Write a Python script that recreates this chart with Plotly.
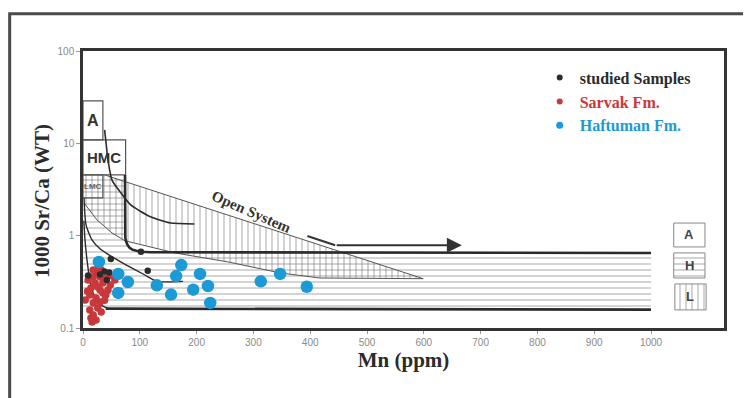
import numpy as np
import plotly.graph_objects as go

# ---------------- data (Mn ppm, 1000 Sr/Ca) ----------------
haftuman_mn = [28, 62, 79, 62, 130, 155, 164, 173, 194, 206, 220, 224, 313, 347, 394]
haftuman_sr = [0.52, 0.385, 0.315, 0.24, 0.29, 0.23, 0.365, 0.48, 0.26, 0.385, 0.285, 0.187, 0.32, 0.385, 0.28]

sarvak_mn = [23, 32, 18, 30, 40, 21, 35, 48, 14, 30, 40, 12, 23, 18, 30, 12, 26, 32, 18, 23,
             14, 4, 56, 49, 18, 25, 44, 26, 9, 35, 16, 8, 38]
sarvak_sr = [0.40, 0.425, 0.357, 0.357, 0.348, 0.308, 0.308, 0.292, 0.271, 0.258, 0.228, 0.228,
             0.211, 0.187, 0.191, 0.157, 0.165, 0.149, 0.138, 0.122, 0.128, 0.201, 0.33, 0.37,
             0.425, 0.425, 0.258, 0.278, 0.33, 0.24, 0.116, 0.25, 0.2]

studied_mn = [102, 114, 49, 38, 46, 9, 30, 42]
studied_sr = [0.67, 0.418, 0.56, 0.41, 0.40, 0.37, 0.38, 0.33]

# ---------------- diagram boundaries ----------------
hmc_curve_mn = [38, 40, 44, 51, 65, 84, 119, 154, 196]
hmc_curve_sr = [14.0, 10.9, 6.6, 4.0, 3.0, 2.15, 1.6, 1.37, 1.34]

upper_bound_mn = [74, 74, 74.5, 76, 78.5, 82, 87, 94, 104, 118, 1000]
upper_bound_sr = [4.55, 1.09, 0.95, 0.86, 0.79, 0.74, 0.705, 0.685, 0.67, 0.662, 0.65]

mid_curve_mn = [1.8, 5.3, 15.8, 30, 49, 74, 109, 130, 176]
mid_curve_sr = [2.56, 1.31, 0.90, 0.72, 0.60, 0.49, 0.375, 0.32, 0.32]

low_curve_mn = [1.5, 3.5, 7, 12, 19, 30, 44]
low_curve_sr = [1.45, 0.90, 0.55, 0.33, 0.23, 0.18, 0.163]
base_line_mn = [40, 1000]
base_line_sr = [0.162, 0.158]

open_band_mn = [0, 38, 599, 417, 347, 255, 162, 74, 51, 24.6, 1.8, 0]
open_band_sr = [4.55, 4.55, 0.342, 0.348, 0.395, 0.52, 0.65, 0.88, 1.07, 1.48, 2.26, 2.4]

horiz_band_mn = [0, 74, 74, 76, 79, 86, 100, 118, 1000, 1000, 0]
horiz_band_sr = [4.55, 4.55, 1.09, 0.897, 0.79, 0.72, 0.675, 0.66, 0.65, 0.158, 0.158]

band_lower_mn = [1.8, 24.6, 51, 74, 162, 255, 347, 417, 599]
band_lower_sr = [2.26, 1.48, 1.07, 0.88, 0.65, 0.52, 0.395, 0.348, 0.342]

open_arrow_mn = [395, 444]
open_arrow_sr = [0.99, 0.787]
arrow_tail_mn, arrow_head_mn, arrow_sr = 444, 667, 0.787

# label boxes (Mn range, Sr/Ca range)
box_A = ([0, 35], [10.9, 28.8])
box_HMC = ([0, 75], [4.55, 10.9])
box_LMC = ([0, 35], [2.56, 4.55])
key_A = ([1040, 1095], [0.755, 1.37])
key_H = ([1040, 1095], [0.348, 0.65])
key_L = ([1042, 1097], [0.157, 0.30])

x_ticks = [0, 100, 200, 300, 400, 500, 600, 700, 800, 900, 1000]
y_ticks = [0.1, 1, 10, 100]
y_tick_text = ["0.1", "1", "10", "100"]

BLUE = "#1b9ad6"
RED = "#c8383a"
DARK = "#2b2b2b"
HATCH = "#6e6e6e"

fig = go.Figure()

def hatch(xs, ys, shape, line=None):
    fig.add_trace(go.Scatter(
        x=xs, y=ys, mode="lines" if line else "none", fill="toself",
        fillcolor="rgba(0,0,0,0)",
        line=line if line else dict(width=0),
        fillpattern=dict(shape=shape, size=6, solidity=0.2, fgcolor=HATCH,
                         bgcolor="rgba(0,0,0,0)", fillmode="overlay"),
        showlegend=False, hoverinfo="skip"))

def box(b):
    xs = [b[0][0], b[0][1], b[0][1], b[0][0], b[0][0]]
    ys = [b[1][0], b[1][0], b[1][1], b[1][1], b[1][0]]
    return xs, ys

hatch(horiz_band_mn, horiz_band_sr, "-")
hatch(open_band_mn, open_band_sr, "|")

xs, ys = box(key_H); hatch(xs, ys, "-", dict(color="#888", width=1))
xs, ys = box(key_L); hatch(xs, ys, "|", dict(color="#888", width=1))
xs, ys = box(key_A)
fig.add_trace(go.Scatter(x=xs, y=ys, mode="lines", line=dict(color="#888", width=1),
                         showlegend=False, hoverinfo="skip"))
for b in (box_A, box_HMC, box_LMC):
    xs, ys = box(b)
    fig.add_trace(go.Scatter(x=xs, y=ys, mode="lines", line=dict(color="#555", width=1.2),
                             showlegend=False, hoverinfo="skip"))

def line(xs, ys, w, color=DARK, shape="spline"):
    fig.add_trace(go.Scatter(x=xs, y=ys, mode="lines",
                             line=dict(color=color, width=w, shape=shape, smoothing=0.6),
                             showlegend=False, hoverinfo="skip"))

line(band_lower_mn, band_lower_sr, 1.0, "#555", "linear")
line([open_band_mn[1], open_band_mn[2]], [open_band_sr[1], open_band_sr[2]], 1.0, "#555", "linear")
line(hmc_curve_mn, hmc_curve_sr, 1.6)
line(mid_curve_mn, mid_curve_sr, 1.4)
line(low_curve_mn, low_curve_sr, 1.4)
line(base_line_mn, base_line_sr, 2.6, DARK, "linear")
line(upper_bound_mn, upper_bound_sr, 2.6, DARK, "linear")
line(open_arrow_mn, open_arrow_sr, 2.0, "#333", "linear")

# samples
fig.add_trace(go.Scatter(x=sarvak_mn, y=sarvak_sr, mode="markers",
                         marker=dict(color=RED, size=7.5, line=dict(width=0)),
                         showlegend=False, name="Sarvak Fm."))
fig.add_trace(go.Scatter(x=studied_mn, y=studied_sr, mode="markers",
                         marker=dict(color=DARK, size=6.5, line=dict(width=0)),
                         showlegend=False, name="studied Samples"))
fig.add_trace(go.Scatter(x=haftuman_mn, y=haftuman_sr, mode="markers",
                         marker=dict(color=BLUE, size=12.5, line=dict(width=0)),
                         showlegend=False, name="Haftuman Fm."))

# legend entries
for nm, col, sz in [("studied Samples", DARK, 6), ("Sarvak Fm.", RED, 6), ("Haftuman Fm.", BLUE, 7)]:
    fig.add_trace(go.Scatter(x=[None], y=[None], mode="markers",
                             marker=dict(color=col, size=sz),
                             name=f"<span style='color:{col}'>{nm}</span>", showlegend=True))

ann = []
def gm(r):
    return float(np.sqrt(r[0] * r[1]))

for b, txt, sz, col in [(box_A, "A", 16, "#333"), (box_HMC, "HMC", 15, "#333"),
                        (box_LMC, "LMC", 8, "#666"),
                        (key_A, "A", 13, "#444"), (key_H, "H", 13, "#444"), (key_L, "L", 13, "#444")]:
    ann.append(dict(x=float(np.mean(b[0])), y=np.log10(gm(b[1])), text=f"<b>{txt}</b>",
                    showarrow=False, xref="x", yref="y",
                    font=dict(family="Liberation Sans", size=sz, color=col)))

ann.append(dict(x=297, y=np.log10(1.81), text="<b>Open System</b>", textangle=23.5,
                showarrow=False, xref="x", yref="y",
                font=dict(family="Liberation Serif", size=15, color="#333")))
ann.append(dict(x=arrow_head_mn, y=np.log10(arrow_sr), ax=arrow_tail_mn, ay=np.log10(arrow_sr),
                xref="x", yref="y", axref="x", ayref="y", text="", showarrow=True,
                arrowhead=2, arrowsize=1.5, arrowwidth=2, arrowcolor="#333"))
# y-axis title
ann.append(dict(x=-0.064, y=0.458, xref="paper", yref="paper", text="<b>1000 Sr/Ca (WT)</b>",
                textangle=-90, showarrow=False, xanchor="center", yanchor="middle",
                font=dict(family="Liberation Serif", size=21, color="#2b2b2b")))

# page body has an 8px margin: figure is sized so the page fits 751x398 exactly
fig.update_layout(
    width=743, height=390,
    margin=dict(l=75, r=27, t=43, b=70, autoexpand=False),
    paper_bgcolor="white", plot_bgcolor="white",
    annotations=ann,
    showlegend=True,
    legend=dict(x=0.7125, y=0.965, xanchor="left", yanchor="top",
                bgcolor="rgba(0,0,0,0)", itemwidth=30, tracegroupgap=0,
                font=dict(family="Liberation Serif", size=16, color=DARK, weight="bold")),
    shapes=[dict(type="rect", xref="paper", yref="paper", x0=-0.1144, x1=1.046,
                 y0=-0.30, y1=1.1347, line=dict(color="#4a4a4a", width=3))],
)
fig.update_xaxes(range=[0, 1128.5], tickvals=x_ticks, ticks="outside", ticklen=3,
                 tickcolor="#999", showgrid=False, zeroline=False, automargin=False,
                 showline=True, mirror=True, linewidth=2.5, linecolor="#333",
                 tickfont=dict(family="Liberation Sans", size=10, color="#8a8a8a"),
                 title=dict(text="<b>Mn (ppm)</b>", standoff=6,
                            font=dict(family="Liberation Serif", size=21, color="#2b2b2b")))
fig.update_yaxes(type="log", range=[-1, 2.0], tickvals=y_ticks, ticktext=y_tick_text,
                 ticks="outside", ticklen=4, tickcolor="#999", showgrid=False, zeroline=False,
                 automargin=False,
                 showline=True, mirror=True, linewidth=2.5, linecolor="#333",
                 tickfont=dict(family="Liberation Sans", size=10, color="#8a8a8a"))

fig.write_html("out.html")
